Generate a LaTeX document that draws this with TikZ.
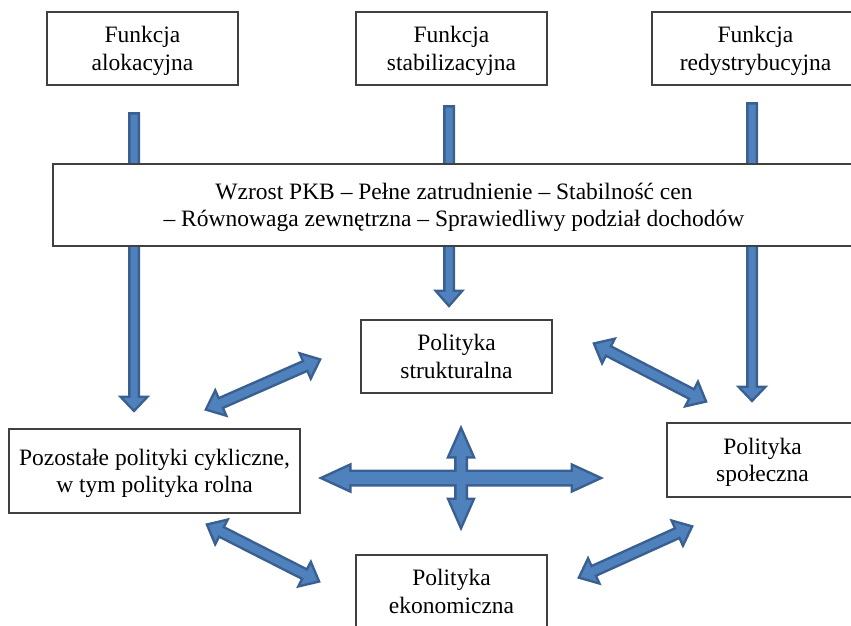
\documentclass[tikz,border=0pt]{standalone}
\usepackage{fontspec}
\setmainfont{Liberation Serif}
\usetikzlibrary{calc}
\definecolor{arrfill}{RGB}{79,129,189}
\definecolor{arrline}{RGB}{58,96,145}
\definecolor{boxline}{RGB}{64,64,64}
\tikzset{
  box/.style={draw=boxline, fill=white, line width=1.1pt, align=center,
    font=\fontsize{23.5}{27.5}\selectfont, inner sep=0pt, text depth=0pt},
  arrout/.style={draw=arrline, line width=5pt, line join=miter},
  arrin/.style={fill=arrfill},
}
% double-headed block arrow: [style]{A}{B}{shaft half}{head half}{head length}
\newcommand\dblarr[6][arrin]{%
  \path[#1] (#2) -- ($(#2)!#6!(#3)!#5!90:(#3)$) -- ($(#2)!#6!(#3)!#4!90:(#3)$)
    -- ($(#3)!#6!(#2)!#4!-90:(#2)$) -- ($(#3)!#6!(#2)!#5!-90:(#2)$) -- (#3)
    -- ($(#3)!#6!(#2)!#5!90:(#2)$) -- ($(#3)!#6!(#2)!#4!90:(#2)$)
    -- ($(#2)!#6!(#3)!#4!-90:(#3)$) -- ($(#2)!#6!(#3)!#5!-90:(#3)$) -- cycle;}
% single-headed block arrow: [style]{start}{tip}{shaft half}{head half}{head length}
\newcommand\sglarr[6][arrin]{%
  \path[#1] ($(#2)!#4!90:(#3)$) -- ($(#3)!#6!(#2)!#4!-90:(#2)$)
    -- ($(#3)!#6!(#2)!#5!-90:(#2)$) -- (#3) -- ($(#3)!#6!(#2)!#5!90:(#2)$)
    -- ($(#3)!#6!(#2)!#4!90:(#2)$) -- ($(#2)!#4!-90:(#3)$) -- cycle;}
\newcommand\sglarrow[5]{\sglarr[arrout]{#1}{#2}{#3}{#4}{#5}\sglarr[arrin]{#1}{#2}{#3}{#4}{#5}}
\newcommand\dblarrow[5]{\dblarr[arrout]{#1}{#2}{#3}{#4}{#5}\dblarr[arrin]{#1}{#2}{#3}{#4}{#5}}
\begin{document}
\begin{tikzpicture}[x=1pt, y=-1pt]
\useasboundingbox (0,0) rectangle (851,625);
\clip (0,0) rectangle (851,625);
% arrow end points
\coordinate (v1s) at (134,114.5); \coordinate (v1e) at (134,409);
\coordinate (v2s) at (449,107.5); \coordinate (v2e) at (449,304);
\coordinate (v3s) at (752,104.5); \coordinate (v3e) at (752,399);
\coordinate (tl1) at (207.7,408.8); \coordinate (tl2) at (318.3,360.2);
\coordinate (bl1) at (208.7,525.4); \coordinate (bl2) at (317.3,580.6);
\coordinate (tr1) at (595.7,344.4); \coordinate (tr2) at (704.3,400.6);
\coordinate (br1) at (580.7,576.8); \coordinate (br2) at (690.3,527.2);
\coordinate (hl) at (324,478); \coordinate (hr) at (598,478);
\coordinate (vt) at (461,431); \coordinate (vb) at (461,525);
% vertical arrows (behind the goals box)
\sglarrow{v1s}{v1e}{3.5pt}{10.5pt}{11pt}
\sglarrow{v2s}{v2e}{3.5pt}{10.5pt}{12pt}
\sglarrow{v3s}{v3e}{3.5pt}{10.5pt}{11pt}
% nodes
\node[box, minimum width=191pt, minimum height=73pt] (f1) at (142.5,48.5) {Funkcja\\alokacyjna};
\node[box, minimum width=191pt, minimum height=73pt] (f2) at (451.5,48.5) {Funkcja\\stabilizacyjna};
\node[box, minimum width=207pt, minimum height=73pt] (f3) at (755.5,48.5) {Funkcja\\redystrybucyjna};
\node[box, minimum width=802pt, minimum height=82pt] (goals) at (454,205) {Wzrost PKB – Pełne zatrudnienie – Stabilność cen\\– Równowaga zewnętrzna – Sprawiedliwy podział dochodów};
\node[box, minimum width=191pt, minimum height=73pt] (struct) at (456.5,356.5) {Polityka\\strukturalna};
\node[box, minimum width=291pt, minimum height=84pt] (other) at (154.5,471) {Pozostałe polityki cykliczne,\\w tym polityka rolna};
\node[box, minimum width=191pt, minimum height=74pt] (social) at (762.5,460) {Polityka\\społeczna};
\node[box, minimum width=191pt, minimum height=73pt] (econ) at (451.5,591.5) {Polityka\\ekonomiczna};
% diagonal double arrows
\dblarrow{tl1}{tl2}{4pt}{11pt}{13pt}
\dblarrow{bl1}{bl2}{4pt}{11pt}{13pt}
\dblarrow{tr1}{tr2}{4pt}{11pt}{13pt}
\dblarrow{br1}{br2}{4pt}{11pt}{13pt}
% four-way cross
\dblarr[arrout]{hl}{hr}{6pt}{11.5pt}{25pt}
\dblarr[arrout]{vt}{vb}{4.5pt}{11pt}{25pt}
\dblarr[arrin]{hl}{hr}{6pt}{11.5pt}{25pt}
\dblarr[arrin]{vt}{vb}{4.5pt}{11pt}{25pt}
\end{tikzpicture}
\end{document}
